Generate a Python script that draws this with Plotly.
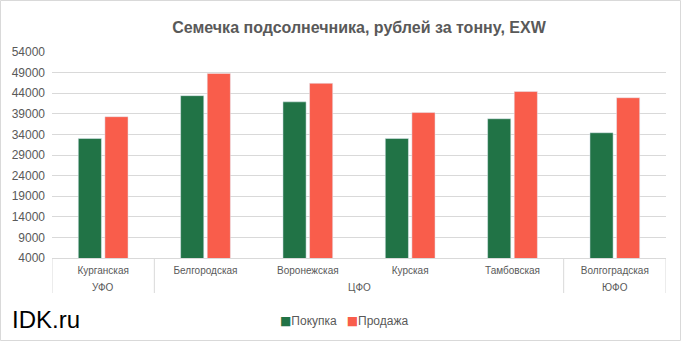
import plotly.graph_objects as go

districts = ["УФО", "ЦФО", "ЦФО", "ЦФО", "ЦФО", "ЮФО"]
regions = ["Курганская", "Белгородская", "Воронежская", "Курская", "Тамбовская", "Волгоградская"]
buy = [33000, 43400, 41900, 33000, 37800, 34400]
sell = [38300, 48800, 46400, 39300, 44400, 42900]
y_ticks = [4000, 9000, 14000, 19000, 24000, 29000, 34000, 39000, 44000, 49000, 54000]
series_names = ["Покупка", "Продажа"]
colors = ["#217346", "#F95D4B"]

W, H = 681, 341
ml, mr, mt, mb = 52, 15, 52, 83
pw, ph = W - ml - mr, H - mt - mb
FONT = "Liberation Sans, Arial, sans-serif"


def py(px_below_top):
    """paper y for a pixel row measured from the top of the figure"""
    return (H - mb - px_below_top) / ph


fig = go.Figure()
for name, vals, col in zip(series_names, [buy, sell], colors):
    fig.add_trace(go.Bar(x=regions, y=vals, name=name, marker_color=col, showlegend=False))

fig.update_layout(
    width=W, height=H,
    margin=dict(l=ml, r=mr, t=mt, b=mb, autoexpand=False),
    paper_bgcolor="white", plot_bgcolor="white",
    font=dict(family=FONT, color="#595959"),
    title=dict(text="<b>Семечка подсолнечника, рублей за тонну, EXW</b>",
               x=(ml + pw / 2) / W, xanchor="center", y=1 - 27.5 / H, yanchor="middle",
               font=dict(size=16, color="#595959")),
    barmode="group", bargap=0.48, bargroupgap=0.13,
    xaxis=dict(type="category", showline=True, linecolor="#d9d9d9", linewidth=1,
               tickfont=dict(size=10, color="#595959"), ticks="", ticklabelstandoff=3,
               range=[-0.5, len(regions) - 0.5]),
    yaxis=dict(range=[4000, 54000], tickvals=y_ticks, ticktext=[str(v) for v in y_ticks],
               showgrid=True, gridcolor="#d9d9d9", gridwidth=1, zeroline=False,
               tickfont=dict(size=12, color="#595959"), ticklabelstandoff=6),
)

# group (district) labels and dividers derived from the data
groups = []
for i, d in enumerate(districts):
    if groups and groups[-1][0] == d:
        groups[-1][2] = i
    else:
        groups.append([d, i, i])
bounds = sorted(set([g[1] - 0.5 for g in groups] + [g[2] + 0.5 for g in groups]))
for b in bounds:
    fig.add_shape(type="line", xref="x", yref="paper", x0=b, x1=b, y0=0, y1=py(293),
                  line=dict(color="#d9d9d9", width=1))
for d, i0, i1 in groups:
    fig.add_annotation(text=d, xref="x", yref="paper", x=(i0 + i1) / 2, y=py(287),
                       yanchor="middle", showarrow=False,
                       font=dict(size=10, color="#595959"))

# legend drawn as text
legend_text = "   ".join(
    f'<span style="color:{c}; font-family:DejaVu Sans">■</span>{n}'
    for n, c in zip(series_names, colors))
fig.add_annotation(text=legend_text, xref="paper", yref="paper",
                   x=(344 - ml) / pw, xanchor="center", y=py(320.5), yanchor="middle",
                   showarrow=False, font=dict(size=12, color="#595959"))

fig.add_annotation(text="IDK.ru", xref="paper", yref="paper",
                   x=-(ml - 10) / pw, xanchor="left", y=py(319.5), yanchor="middle",
                   showarrow=False, font=dict(size=24, color="#000000"))

fig.add_shape(type="rect", xref="paper", yref="paper",
              x0=-(ml - 0.5) / pw, x1=(W - ml - 0.5) / pw,
              y0=py(H - 0.5), y1=py(0.5),
              line=dict(color="#d9d9d9", width=1), fillcolor="rgba(0,0,0,0)", layer="below")

fig.write_html("out.html")
